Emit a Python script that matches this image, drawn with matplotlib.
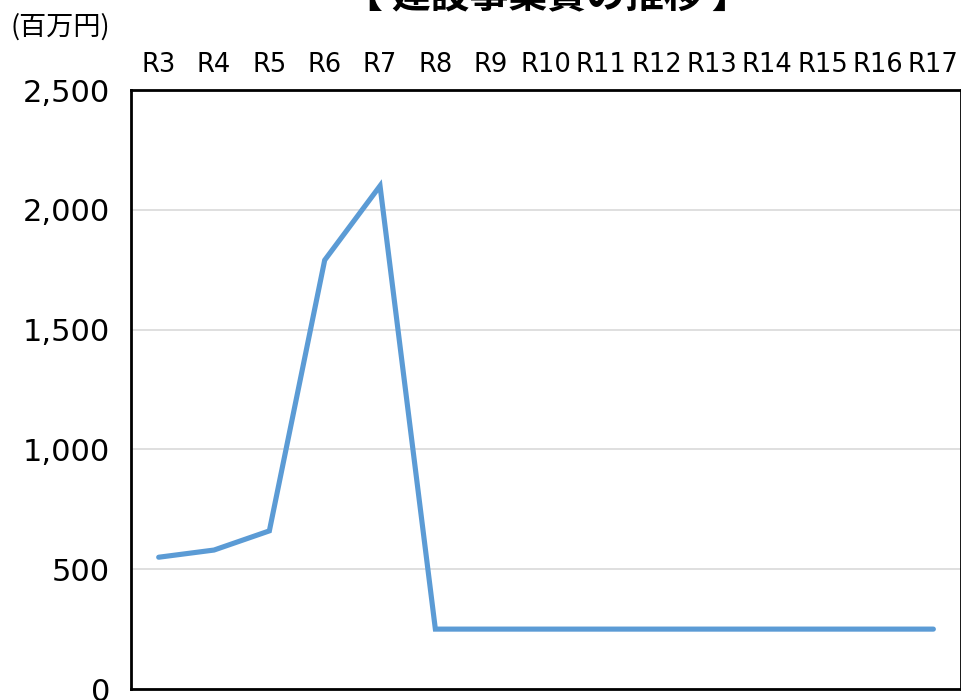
import matplotlib
matplotlib.use("Agg")
import matplotlib.pyplot as plt

plt.rcParams["font.family"] = ["DejaVu Sans", "Noto Sans CJK JP"]

# 年度別の建設事業費（百万円）
years = ["R3", "R4", "R5", "R6", "R7", "R8", "R9", "R10",
         "R11", "R12", "R13", "R14", "R15", "R16", "R17"]
costs = [550, 580, 660, 1790, 2100, 250, 250, 250,
         250, 250, 250, 250, 250, 250, 250]
y_ticks = [0, 500, 1000, 1500, 2000, 2500]

LINE_COLOR = "#5b9bd5"
GRID_COLOR = "#d9d9d9"
CJK = ["Noto Sans CJK JP", "DejaVu Sans"]

fig = plt.figure(figsize=(9.62, 7.0), dpi=100)
ax = fig.add_axes([0.1362, 0.0157, 0.8628, 0.8557])

x = list(range(len(years)))
ax.plot(x, costs, color=LINE_COLOR, lw=3.7, solid_joinstyle="miter",
        solid_capstyle="round", zorder=3)

ax.set_xlim(-0.5, len(years) - 0.5)
ax.set_ylim(0, 2500)
ax.set_yticks(y_ticks)
ax.set_yticklabels([f"{v:,}" for v in y_ticks], fontsize=22)
ax.yaxis.grid(True, color=GRID_COLOR, lw=1.2)
ax.set_axisbelow(True)

ax.xaxis.tick_top()
ax.set_xticks(x)
ax.set_xticklabels(years, fontsize=18.5)
ax.tick_params(axis="both", length=0)
ax.tick_params(axis="x", pad=9)
ax.tick_params(axis="y", pad=15)

for s in ax.spines.values():
    s.set_color("black")
    s.set_linewidth(2.0)

# 単位ラベル
fig.text(0.011, 0.962, "(百万円)", fontsize=19.5, ha="left", va="center",
         family=CJK)
fig.text(0.569, 1.005, "【 建設事業費の推移 】", fontsize=28,
         ha="center", va="center", fontweight="bold", family=CJK)

fig.savefig("out.png", dpi=100)
